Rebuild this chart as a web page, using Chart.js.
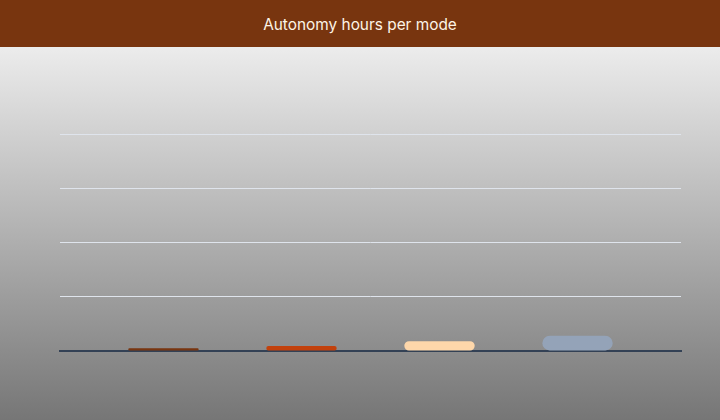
<!DOCTYPE html>
<html>
<head>
<meta charset="utf-8">
<script src="https://cdn.jsdelivr.net/npm/chart.js@4.4.1/dist/chart.umd.min.js"></script>
<style>
  html, body { margin: 0; padding: 0; width: 720px; height: 420px; overflow: hidden; }
  body { background: linear-gradient(to bottom, #ececec 47px, #767676 420px); font-family: Inter, "Noto Sans", sans-serif; }
  #hdr { height: 47px; background: #78350f; color: #fdf4e6; font-size: 15.4px; text-align: center; line-height: 50px; box-sizing: border-box; }
  #wrap { position: relative; width: 720px; height: 373px; }
</style>
</head>
<body>
<div id="hdr">Autonomy hours per mode</div>
<div id="wrap"><canvas id="c"></canvas></div>
<script>
const categories = ['Autonomy'];
const modes = ['Eco', 'Normal', 'Sport', 'Boost'];
const hours = [5, 9, 18, 28];
const colors = ['#78350f', '#c2410c', '#fed7aa', '#94a3b8'];
const yTicks = [0, 100, 200, 300, 400];

const datasets = modes.map((m, i) => ({
  label: m,
  data: [hours[i]],
  backgroundColor: colors[i],
  borderRadius: 8,
  borderSkipped: false,
  categoryPercentage: 0.889,
  barPercentage: 0.51
}));

new Chart(document.getElementById('c'), {
  type: 'bar',
  data: { labels: categories, datasets },
  options: {
    responsive: true,
    maintainAspectRatio: false,
    animation: false,
    layout: { padding: { left: 60, right: 39, top: 87, bottom: 69 } },
    plugins: { legend: { display: false }, title: { display: false }, tooltip: { enabled: false } },
    scales: {
      x: {
        grid: { display: false, drawTicks: false },
        ticks: { display: false },
        border: { display: true, color: '#334155', width: 2 },
        afterFit: (s) => { s.height = 0; }
      },
      y: {
        min: yTicks[0],
        max: yTicks[yTicks.length - 1],
        afterBuildTicks: (s) => { s.ticks = yTicks.map(v => ({ value: v })); },
        grid: { color: '#dfe4ec', lineWidth: 1, drawTicks: false },
        ticks: { display: false },
        border: { display: false },
        afterFit: (s) => { s.width = 0; }
      }
    }
  }
});
</script>
</body>
</html>
